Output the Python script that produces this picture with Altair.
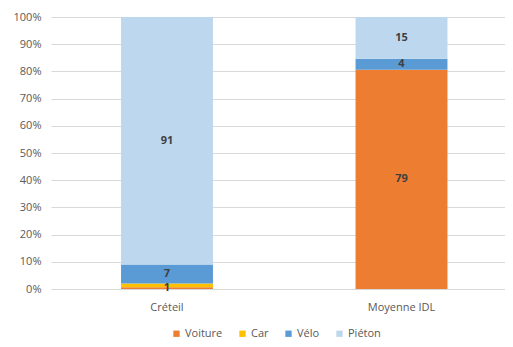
import altair as alt
import pandas as pd

categories = ["Créteil", "Moyenne IDL"]
modes = ["Voiture", "Car", "Vélo", "Piéton"]
creteil_values = [0.6, 1.4, 7, 91]
moyenne_values = [79, 0, 4, 15]
creteil_labels = ["1", "", "7", "91"]
moyenne_labels = ["79", "", "4", "15"]
colors = ["#ED7D31", "#FFC000", "#5B9BD5", "#BDD7EE"]
y_ticks = [0, 0.1, 0.2, 0.3, 0.4, 0.5, 0.6, 0.7, 0.8, 0.9, 1.0]

rows = []
for cat, vals, labs in [(categories[0], creteil_values, creteil_labels),
                        (categories[1], moyenne_values, moyenne_labels)]:
    for i, (m, v, l) in enumerate(zip(modes, vals, labs)):
        rows.append({"cat": cat, "mode": m, "value": v, "label": l, "ord": i})
df = pd.DataFrame(rows)

FONT = "Open Sans"
GRAY = "#595959"

xscale = alt.Scale(domain=categories, paddingInner=0.608, paddingOuter=0.272, align=0.549)
yscale = alt.Scale(domain=[0, 1])

xaxis = alt.Axis(title=None, labelAngle=0, ticks=False, domain=True,
                 domainColor="#D9D9D9", labelPadding=12,
                 labelFont=FONT, labelFontSize=11, labelColor=GRAY)
yaxis = alt.Axis(title=None, format=".0%", values=y_ticks, ticks=False,
                 domain=False, grid=True, gridColor="#D9D9D9",
                 labelOverlap=False, tickCount=11,
                 labelPadding=10, labelFont=FONT, labelFontSize=11,
                 labelColor=GRAY)

base = alt.Chart(df).transform_stack(
    stack="value",
    groupby=["cat"],
    sort=[alt.SortField("ord", order="ascending")],
    offset="normalize",
    as_=["y0", "y1"],
).transform_calculate(mid="(datum.y0 + datum.y1) / 2")

bars = base.mark_bar().encode(
    x=alt.X("cat:N", sort=categories, scale=xscale, axis=xaxis),
    y=alt.Y("y0:Q", scale=yscale, axis=yaxis),
    y2="y1",
    color=alt.Color("mode:N", scale=alt.Scale(domain=modes, range=colors),
                    legend=alt.Legend(title=None, orient="none", direction="horizontal",
                                      legendX=120, legendY=311, padding=0,
                                      symbolType="square", symbolSize=40,
                                      symbolStrokeWidth=0, columnPadding=14,
                                      labelFont=FONT, labelFontSize=11,
                                      labelColor=GRAY, labelOffset=3)),
    order=alt.Order("ord:Q"),
)

texts = base.mark_text(fontWeight="bold", color="#404040", fontSize=11, font=FONT).encode(
    x=alt.X("cat:N", sort=categories, scale=xscale, axis=xaxis),
    y=alt.Y("mid:Q", scale=yscale, axis=yaxis),
    text="label:N",
)

chart = alt.layer(bars, texts).properties(
    width=454,
    height=272,
    autosize=alt.AutoSizeParams(type="none"),
    padding={"left": 43, "top": 9, "right": 0, "bottom": 50},
    background="white",
).configure_view(stroke=None)

chart.save("out.html", embed_options={"renderer": "svg", "actions": False})
